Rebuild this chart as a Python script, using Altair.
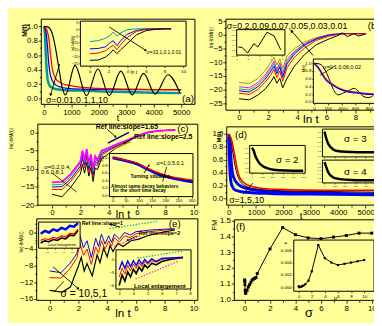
import math
import altair as alt
import pandas as pd

OX, OY = 8, 8
W, H = 374, 315
FONT = "Liberation Sans"
BG = "#FFFF99"

# ---------------- data ----------------
# (a) main: M(t) vs t
A_T_BLACK = [0, 150, 300, 420, 540, 660, 780, 1130, 1550, 1965, 2380, 2800, 3215, 3630, 4050, 4520, 4950]
A_M_BLACK = [1.0, 0.99, 0.9, 0.7, 0.42, 0.16, 0.05, 0.46, 0.04, 0.41, 0.04, 0.38, 0.05, 0.35, 0.06, 0.33, 0.08]
A_T_RED = [0, 60, 120, 180, 240, 300, 420, 600, 800, 1100, 1500, 2000, 3000, 4000, 5000]
A_M_RED = [1.0, 0.98, 0.93, 0.82, 0.6, 0.42, 0.28, 0.22, 0.19, 0.17, 0.15, 0.14, 0.13, 0.125, 0.12]
A_T_BLUE = [0, 40, 80, 120, 170, 230, 300, 420, 600, 900, 1300, 2000, 3000, 4000, 5000]
A_M_BLUE = [1.0, 0.97, 0.9, 0.75, 0.5, 0.33, 0.25, 0.19, 0.16, 0.14, 0.13, 0.125, 0.125, 0.125, 0.125]
A_T_TEAL = [0, 20, 40, 60, 90, 120, 160, 220, 300, 450, 700, 1000, 1500, 2000, 3000, 4000, 5000]
A_M_TEAL = [1.0, 0.95, 0.85, 0.65, 0.45, 0.3, 0.22, 0.17, 0.15, 0.13, 0.12, 0.11, 0.11, 0.1, 0.09, 0.08, 0.075]
# (a) inset: ln(-lnM) vs ln t
AI_X = [0, 0.9, 1.7, 2.2, 2.5, 2.9, 3.3, 4.0, 5.0, 6.0, 7.0, 8.0, 8.7]
AI_TEAL = [-9.0, -8.3, -6.5, -4.3, -2.0, -5.0, -2.6, -0.3, 0.3, 0.5, 0.5, 0.6, 0.6]
AI_BLUE = [-14.3, -14.0, -12.8, -9.6, -8.4, -12.0, -8.4, -3.6, -0.8, 0.1, 0.3, 0.4, 0.4]
AI_RED = [-17.9, -17.4, -15.7, -13.0, -11.8, -14.9, -11.3, -6.0, -1.5, 0.0, 0.3, 0.4, 0.4]
AI_BLACK = [-22.7, -22.5, -20.3, -17.4, -15.0, -17.9, -15.0, -10.5, -4.0, -1.0, 0.0, 0.3, 0.3]

# (b) main
B_X = [0, 0.7, 1.3, 1.8, 2.2, 2.4, 2.6, 2.8, 3.0, 3.3, 3.8, 4.5, 5.3, 6.2, 6.8, 7.1, 7.45, 7.9, 8.2, 8.7]
B_OLIVE = [-17.4, -17.8, -16.0, -13.0, -10.0, -8.2, -11.0, -8.8, -12.4, -7.6, -5.0, -2.6, -1.0, 0.2, 0.4, 0.5, 0.5, 0.5, 0.5, 0.5]
B_MAGENTA = [-19.0, -19.4, -17.4, -14.6, -11.5, -9.6, -12.6, -10.2, -14.0, -9.0, -6.0, -3.2, -1.2, 0.1, 0.4, 0.5, 0.5, 0.5, 0.5, 0.5]
B_CYAN = [-19.8, -20.2, -18.2, -15.4, -12.3, -10.5, -13.4, -11.0, -14.8, -9.8, -6.5, -3.5, -1.4, 0.0, 0.4, 0.5, 0.5, 0.5, 0.5, 0.5]
B_BLUE = [-20.5, -20.9, -19.0, -16.2, -13.2, -11.4, -14.2, -11.8, -15.6, -10.6, -7.0, -3.8, -1.5, 0.0, 0.3, 0.5, 0.5, 0.5, 0.5, 0.5]
B_RED = [-21.4, -21.8, -20.0, -17.3, -14.5, -12.6, -15.6, -13.2, -17.0, -12.0, -8.2, -4.8, -2.0, -0.4, 0.2, 0.4, 0.5, 0.5, 0.5, 0.5]
B_BLACK = [-23.4, -23.8, -22.0, -19.8, -17.1, -15.3, -17.7, -15.9, -19.4, -15.9, -11.5, -7.2, -3.6, -1.4, -0.2, 0.8, -0.6, 0.5, -0.4, 0.4]
# (b) inset 1
BI1_X = [0.28, 0.97, 1.9, 3.04, 3.73, 5.35, 6.6, 7.76]
BI1_Y = [0.32, 0.30, 0.08, 0.45, 0.32, 0.90, 0.75, 0.21]
# (b) inset 2
BI2_T_BLACK = [0, 86, 157, 219, 276, 347, 419, 514, 586, 657, 729, 800, 871]
BI2_M_BLACK = [1.0, 0.98, 0.84, 0.6, 0.35, 0.18, 0.22, 0.3, 0.35, 0.26, 0.13, 0.11, 0.18]
BI2_T = [0, 61, 133, 180, 251, 347, 466, 609, 751, 871]
BI2_M_RED = [1.0, 0.9, 0.7, 0.58, 0.48, 0.37, 0.29, 0.25, 0.22, 0.21]
BI2_M_BLUE = [1.0, 0.88, 0.67, 0.55, 0.46, 0.35, 0.27, 0.23, 0.2, 0.19]

# (c) main
C_X = [0, 0.7, 1.3, 1.8, 2.0, 2.15, 2.3, 2.45, 2.6, 2.75, 2.9, 3.05, 3.2, 3.5, 4.0, 4.6, 5.2, 6.0, 6.8, 7.6, 8.7]
C_MAGENTA = [-13.7, -13.6, -11.5, -9.0, -8.0, -5.0, -7.5, -4.5, -8.5, -6.0, -10.0, -6.5, -7.5, -5.0, -4.2, -3.2, -2.3, -0.9, 0.1, 0.5, 0.7]
C_CYAN = [-14.4, -14.3, -12.2, -9.6, -8.6, -5.8, -8.2, -5.3, -9.2, -6.8, -10.8, -7.2, -8.0, -5.4, -4.4, -3.3, -2.4, -0.9, 0.1, 0.5, 0.7]
C_BLUE = [-15.0, -14.9, -12.9, -10.3, -9.3, -6.5, -8.9, -6.0, -9.9, -7.5, -11.5, -7.9, -8.6, -5.8, -4.7, -3.5, -2.5, -1.0, 0.0, 0.5, 0.7]
C_RED = [-15.7, -15.7, -13.6, -11.0, -10.0, -7.3, -9.7, -6.8, -10.7, -8.3, -12.2, -8.6, -9.2, -6.3, -5.0, -3.7, -2.6, -1.0, 0.0, 0.5, 0.7]
C_BLACK = [-17.0, -17.7, -15.2, -12.5, -11.5, -8.8, -11.2, -8.2, -12.0, -9.6, -13.5, -9.8, -10.2, -7.2, -5.8, -4.0, -2.8, -1.1, 0.0, 0.5, 0.7]
# (c) inset
CI_T = [0, 44, 94, 131, 169, 219, 269, 305]
CI_RED = [1.0, 0.94, 0.85, 0.72, 0.61, 0.5, 0.44, 0.4]
CI_BLUE = [1.0, 0.93, 0.83, 0.7, 0.58, 0.47, 0.4, 0.36]
CI_BLACK = [1.0, 0.94, 0.84, 0.71, 0.6, 0.48, 0.42, 0.38]

# (d) main
D_T_RED = [0, 114, 207, 293, 411, 650, 1064, 2018, 3446, 5400]
D_M_RED = [1.0, 0.9, 0.7, 0.5, 0.32, 0.22, 0.17, 0.14, 0.13, 0.13]
D_T_BLUE = [0, 50, 89, 171, 350, 829, 2018, 3500, 5400]
D_M_BLUE = [1.0, 0.85, 0.6, 0.34, 0.22, 0.14, 0.1, 0.085, 0.07]
D_T_BLUE2 = [0, 30, 60, 120, 250, 600, 1500, 3000, 5400]
D_M_BLUE2 = [0.95, 0.6, 0.35, 0.2, 0.13, 0.1, 0.08, 0.07, 0.06]
D_T_BLACK = [0, 80, 160, 250, 380, 600, 1000, 2000, 3500, 5400]
D_M_BLACK = [1.0, 0.9, 0.7, 0.48, 0.3, 0.2, 0.15, 0.12, 0.11, 0.1]
# (d) insets
DI_T = [0, 150, 350, 650, 1000, 1700, 2600, 4000, 5000]
DI2_M = [1.0, 0.92, 0.66, 0.42, 0.26, 0.13, 0.07, 0.05, 0.05]
DI3_M = [1.0, 0.75, 0.5, 0.33, 0.22, 0.17, 0.15, 0.14, 0.14]
DI4_M = [1.0, 0.78, 0.5, 0.3, 0.19, 0.13, 0.1, 0.085, 0.08]

# (e) main
E_X = [0, 0.8, 1.4, 1.9, 2.1, 2.35, 2.6, 2.9, 3.2, 3.4, 3.6, 3.85, 4.1, 4.3, 4.5, 4.85, 5.2, 5.6, 6.0, 6.5, 7.0, 7.5, 8.0, 8.7]
E_BLUE = [-9.3, -9.7, -7.5, -5.1, -0.6, -3.7, -2.0, -6.1, -1.4, -3.4, -0.4, -2.8, -0.8, -2.4, -0.4, -1.6, 0.0, -0.6, 0.2, 0.4, 0.6, 0.7, 0.8, 0.9]
E_RED = [-10.9, -11.0, -8.8, -6.1, -2.5, -5.5, -4.0, -7.7, -3.5, -5.0, -2.0, -4.0, -2.0, -3.3, -1.3, -2.3, -0.8, -1.2, -0.3, 0.0, 0.2, 0.4, 0.6, 0.8]
E_X_BLACK = [0, 0.87, 1.44, 2.0, 2.2, 2.4, 2.6, 2.96, 3.3, 3.5, 3.75, 4.0, 4.2, 4.4, 4.75, 5.1, 5.65, 6.2, 6.8, 7.4, 7.9, 8.7]
E_BLACK = [-14.0, -14.4, -13.2, -8.1, -6.0, -9.3, -7.5, -10.5, -5.4, -7.3, -3.8, -5.9, -3.2, -4.6, -2.6, -3.4, -2.0, -1.6, -0.8, -0.3, 0.1, 0.6]
# (e) inset 1 (local enlargement, arbitrary units)
EI1_X = [0.05, 0.15, 0.25, 0.35, 0.45, 0.55, 0.65, 0.75, 0.85, 0.95]
EI1_BLUE = [0.55, 0.66, 0.6, 0.72, 0.66, 0.78, 0.72, 0.86, 0.82, 0.96]
EI1_RED = [0.3, 0.36, 0.33, 0.41, 0.38, 0.47, 0.44, 0.57, 0.55, 0.73]
EI1_BLACK = [0.2, 0.28, 0.25, 0.33, 0.3, 0.39, 0.36, 0.5, 0.48, 0.68]
# (e) inset 2
EI2_X = [3.0, 3.2, 3.4, 3.6, 3.8, 4.0, 4.2, 4.4, 4.6, 4.8, 5.0, 5.3, 5.6, 6.0, 6.5, 7.0, 7.5]
EI2_BLUE = [-2.3, -0.5, -2.0, -0.3, -1.6, -0.2, -1.3, 0.0, -1.0, 0.1, -0.7, 0.2, -0.4, 0.3, 0.4, 0.5, 0.6]
EI2_RED = [-4.0, -2.0, -3.3, -1.3, -2.6, -1.0, -2.0, -0.7, -1.6, -0.4, -1.1, -0.2, -0.6, 0.1, 0.3, 0.4, 0.5]
EI2_BLACK = [-6.0, -3.5, -5.0, -2.8, -4.0, -2.2, -3.2, -1.7, -2.6, -1.2, -1.9, -0.8, -1.2, -0.4, 0.0, 0.3, 0.5]

# (f) main and inset
F_SIG = [0.01, 0.02, 0.03, 0.05, 0.07, 0.09, 0.1, 0.2, 0.3, 0.4, 0.5, 0.6, 0.7, 0.8, 0.9, 1, 2, 3, 4, 5, 6, 7, 8, 9, 10]
F_FM = [1.125, 1.115, 1.095, 1.06, 1.045, 1.04, 1.045, 1.06, 1.08, 1.095, 1.11, 1.125, 1.13, 1.135, 1.14, 1.165,
        1.32, 1.455, 1.41, 1.39, 1.385, 1.395, 1.405, 1.42, 1.42]
FI_SIG = [0.01, 0.05, 0.1, 0.3, 0.5, 0.7, 1, 1.5, 2, 3, 4, 5, 6, 7, 8, 9, 10]
FI_K = [0.0002, 0.0001, 0.00005, 0.0001, 0.0002, 0.0003, 0.0005, 0.0011, 0.0026, 0.0068, 0.0047, 0.0040,
        0.0036, 0.0038, 0.0040, 0.0042, 0.0044]


# ---------------- helpers ----------------
class Panel:
    def __init__(self, xd, xr, yd, yr):
        self.xd, self.yd = list(xd), list(yd)
        self.xr = [xr[0] - OX, xr[1] - OX]
        self.yr = [yr[0] - OY, yr[1] - OY]

    def xs(self):
        return alt.Scale(domain=self.xd, range=self.xr, nice=False, zero=False)

    def ys(self):
        return alt.Scale(domain=self.yd, range=self.yr, nice=False, zero=False)

    def px(self, x, y):
        X = self.xr[0] + (x - self.xd[0]) / (self.xd[1] - self.xd[0]) * (self.xr[1] - self.xr[0])
        Y = self.yr[0] + (y - self.yd[0]) / (self.yd[1] - self.yd[0]) * (self.yr[1] - self.yr[0])
        return X, Y


def enc(p, xax=None, yax=None):
    return dict(x=alt.X('x:Q', scale=p.xs(), axis=xax), y=alt.Y('y:Q', scale=p.ys(), axis=yax))


def _axis(orient, offset, vals, fs, fmt, labels, tick):
    kw = dict(orient=orient, offset=offset, values=vals, grid=False, domain=False,
              ticks=True, tickSize=tick, tickColor='black', tickWidth=0.8,
              labels=labels, labelFont=FONT, labelFontSize=fs, labelColor='black',
              labelPadding=1, labelFlush=False, labelOverlap=False, labelAngle=0)
    if fmt:
        kw['format'] = fmt
    return kw


def xaxis(p, vals, fs=8, fmt=None, labels=True, tick=3, title=None, tpos=None, tfs=10, tw='normal'):
    kw = _axis('bottom', p.yr[0] - H, vals, fs, fmt, labels, tick)
    if title:
        kw.update(title=title, titleFont=FONT, titleFontSize=tfs, titleFontWeight=tw, titleColor='black',
                  titleX=tpos[0] - OX, titleY=(tpos[1] - OY) - p.yr[0],
                  titleAlign='center', titleBaseline='middle', titleAngle=0)
    else:
        kw['title'] = None
    return alt.Axis(**kw)


def yaxis(p, vals, fs=8, fmt=None, labels=True, tick=3, title=None, tpos=None, tfs=8, tw='normal'):
    kw = _axis('left', -p.xr[0], vals, fs, fmt, labels, tick)
    if title:
        kw.update(title=title, titleFont=FONT, titleFontSize=tfs, titleFontWeight=tw, titleColor='black',
                  titleX=(tpos[0] - OX) - p.xr[0], titleY=tpos[1] - OY,
                  titleAlign='center', titleBaseline='middle', titleAngle=270)
    else:
        kw['title'] = None
    return alt.Axis(**kw)


def frame(p, xax=None, yax=None, fill=False, show=True):
    df = pd.DataFrame({'x': [p.xd[0]], 'x2': [p.xd[1]], 'y': [p.yd[0]], 'y2': [p.yd[1]]})
    mk = dict(stroke='black', strokeWidth=1, strokeOpacity=1 if show else 0)
    if fill:
        mk.update(fill=BG, fillOpacity=1)
    else:
        mk.update(fillOpacity=0)
    return alt.Chart(df).mark_rect(**mk).encode(x2=alt.X2('x2'), y2=alt.Y2('y2'), **enc(p, xax, yax))


def line(p, xs, ys, color, sw=1.0, interp='linear', dash=None):
    df = pd.DataFrame({'x': xs, 'y': ys, 'i': list(range(len(xs)))})
    mk = dict(color=color, strokeWidth=sw, interpolate=interp)
    if dash is not None:
        mk['strokeDash'] = dash
    return alt.Chart(df).mark_line(**mk).encode(order='i:Q', **enc(p))


def points(p, xs, ys, size=9):
    df = pd.DataFrame({'x': xs, 'y': ys})
    return alt.Chart(df).mark_point(shape='square', filled=True, color='black', size=size, opacity=1).encode(**enc(p))


def arrow(p, x0, y0, x1, y1, head=True, sw=0.9, size=12):
    out = [line(p, [x0, x1], [y0, y1], 'black', sw)]
    if head:
        X0, Y0 = p.px(x0, y0)
        X1, Y1 = p.px(x1, y1)
        ang = math.degrees(math.atan2(X1 - X0, -(Y1 - Y0))) % 360
        df = pd.DataFrame({'x': [x1], 'y': [y1]})
        out.append(alt.Chart(df).mark_point(shape='triangle-up', filled=True, color='black', size=size,
                                            angle=ang, opacity=1).encode(**enc(p)))
    return out


def text(p, x, y, s, fs=8, align='left', weight='normal', color='black'):
    df = pd.DataFrame({'x': [x], 'y': [y], 't': [s]})
    mk = dict(fontSize=fs, align=align, baseline='middle', font=FONT, fontWeight=weight, color=color)
    return alt.Chart(df).mark_text(**mk).encode(text='t:N', **enc(p))


layers = []


def add(*items):
    for it in items:
        if isinstance(it, list):
            layers.extend(it)
        else:
            layers.append(it)


# ---------------- panels (pixel boxes of the reference) ----------------
PA = Panel((-100, 5500), (42, 199), (-0.08, 1.1), (103, 16))
PAi = Panel((-1, 10.3), (82, 190), (-27, 6), (64, 18))
PB = Panel((-0.9, 10), (230.7, 392.8), (-27.6, 5.8), (109, 16))
PBi1 = Panel((0, 8.5), (241.7, 291), (0, 1), (52.7, 26.7))
PBi2 = Panel((-10, 930), (320, 385.8), (-0.04, 1.11), (102, 56.7))
PC = Panel((-1, 10.3), (38.5, 202), (-20, 2.3), (206, 123.3))
PCi = Panel((-12, 305), (111.7, 197), (-0.034, 1.11), (197.3, 153.3))
PD = Panel((-70, 5500), (231.5, 387.5), (-0.1, 1.11), (206, 126))
PDi2 = Panel((-200, 5200), (255, 311.7), (-0.05, 1.1), (173.3, 145))
PDi3 = Panel((-200, 5200), (329.3, 386), (-0.05, 1.1), (156.7, 128.3))
PDi4 = Panel((-200, 5200), (329.3, 386), (-0.05, 1.1), (183.3, 160))
PE = Panel((-0.9, 10.3), (37.3, 202), (-16.4, 3.3), (303.3, 220))
PEi1 = Panel((0, 1), (39.3, 81.7), (0, 1), (250, 223.3))
PEi2 = Panel((2.77, 8.06), (118.3, 195), (-6.8, 2.3), (291.7, 251.7))
PF = Panel((-0.8, 11), (239.3, 392.7), (0.996, 1.504), (303.3, 221))
PFi = Panel((-0.75, 11.5), (300, 382), (-0.0006, 0.0076), (294, 241.7))

TEAL = "#009B8F"
CYAN = "#00AAAA"
OLIVE = "#999900"
MAG = "#FF00FF"

# ----- (a) -----
add(frame(PA, xaxis(PA, [0, 1000, 2000, 3000, 4000, 5000], fmt='d', title='t', tpos=(120, 117), tfs=9),
          yaxis(PA, [0, 0.2, 0.4, 0.6, 0.8, 1.0], fmt='.1f', title='M(t)', tpos=(25, 27), tfs=7, tw='bold')))
add(frame(PA, xaxis(PA, [500, 1500, 2500, 3500, 4500], labels=False, tick=2),
          yaxis(PA, [0.1, 0.3, 0.5, 0.7, 0.9], labels=False, tick=2), show=False))
add(line(PA, A_T_TEAL, A_M_TEAL, TEAL, 2.5, 'monotone'),
    line(PA, A_T_BLUE, A_M_BLUE, 'blue', 1.3, 'monotone'),
    line(PA, A_T_RED, A_M_RED, 'red', 1.3, 'monotone'),
    line(PA, A_T_BLACK, A_M_BLACK, 'black', 1.2, 'monotone'))
add(arrow(PA, 571, 0.48, 239, 0.05))
add(text(PA, 70, -0.025, 'σ=0.01,0.1,1,10', fs=9))
add(text(PA, 5250, -0.012, '(a)', fs=10, align='center'))
# (a) inset
add(frame(PAi, xaxis(PAi, [0, 2, 4, 6, 8, 10], fs=4.5, fmt='d', tick=1.5, title='ln t', tpos=(136, 69), tfs=5),
          yaxis(PAi, [5, 0, -5, -10, -15, -20, -25], fs=4, fmt='d', tick=1.5, title='ln(-lnM(t))',
                tpos=(74, 40), tfs=3.5), fill=True))
for c, ys in [(TEAL, AI_TEAL), ('blue', AI_BLUE), ('red', AI_RED), ('black', AI_BLACK)]:
    add(line(PAi, AI_X, ys, c, 1.0))
add(arrow(PAi, 2.1, 1.7, 6.0, -15.5, size=8))
add(text(PAi, 6.1, -16.3, 'σ=10,1,0.1,0.01', fs=5))

# ----- (b) -----
add(frame(PB, xaxis(PB, [0, 2, 4, 6, 8], fmt='d', title='ln t', tpos=(317, 118), tfs=12),
          yaxis(PB, [5, 0, -5, -10, -15, -20, -25], fmt='d', title='ln(-lnM(t))', tpos=(215, 34), tfs=5)))
add(frame(PB, xaxis(PB, [1, 3, 5, 7, 9], labels=False, tick=2),
          yaxis(PB, [2.5, -2.5, -7.5, -12.5, -17.5, -22.5], labels=False, tick=2), show=False))
for c, ys in [(OLIVE, B_OLIVE), (MAG, B_MAGENTA), (CYAN, B_CYAN), ('blue', B_BLUE), ('red', B_RED),
              ('black', B_BLACK)]:
    add(line(PB, B_X, ys, c, 1.0))
add(frame(PBi1, xaxis(PBi1, [0, 2, 4, 6, 8], fs=2.5, fmt='d', tick=1),
          yaxis(PBi1, [0, 0.2, 0.4, 0.6, 0.8, 1.0], fs=2.5, fmt='.1f', tick=1), fill=True))
add(line(PBi1, BI1_X, BI1_Y, 'black', 1.0))
add(text(PB, -0.85, 3.2, 'σ=0.2,0.09,0.07,0.05,0.03,0.01', fs=9))
add(text(PB, 8.85, 3.3, '(b)', fs=10))
add(arrow(PB, 5.09, -7.5, 3.6, 1.5))
add(frame(PBi2, xaxis(PBi2, [0, 200, 400, 600, 800], fs=4.5, fmt='d', tick=1.5, title='t', tpos=(354, 107), tfs=5),
          yaxis(PBi2, [0, 0.2, 0.4, 0.6, 0.8, 1.0], fs=4.5, fmt='.1f', tick=1.5, title='M(t)',
                tpos=(310, 66), tfs=4), fill=True))
add(line(PBi2, BI2_T_BLACK, BI2_M_BLACK, 'black', 1.0, 'monotone'),
    line(PBi2, BI2_T, BI2_M_RED, 'red', 1.2, 'monotone'),
    line(PBi2, BI2_T, BI2_M_BLUE, 'blue', 1.2, 'monotone'))
add(line(PBi2, [90, 305], [0.69, 0.93], 'black', 0.8))
add(text(PBi2, 133, 0.89, 'σ=0.1,0.06,0.02', fs=5.5))

# ----- (c) -----
add(frame(PC, xaxis(PC, [0, 2, 4, 6, 8, 10], fmt='d', title='ln t', tpos=(125, 215.5), tfs=11),
          yaxis(PC, [0, -5, -10, -15, -20], fmt='d', title='ln(-lnM(t))', tpos=(11, 137), tfs=5)))
add(frame(PC, xaxis(PC, [1, 3, 5, 7, 9], labels=False, tick=2),
          yaxis(PC, [-2.5, -7.5, -12.5, -17.5], labels=False, tick=2), show=False))
for c, ys, w in [('black', C_BLACK, 1.0), ('red', C_RED, 1.0), ('blue', C_BLUE, 1.0), (CYAN, C_CYAN, 1.0),
                 (MAG, C_MAGENTA, 1.8)]:
    add(line(PC, C_X, ys, c, w))
add(line(PC, [3.94, 5.44], [-2.93, 0.03], '#000080', 1.5))
add(line(PC, [4.29, 5.53], [-4.71, -2.47], OLIVE, 1.5))
add(text(PC, 3.09, 1.6, 'Ref line:slope=1.65', fs=7, weight='bold'))
add(text(PC, 5.79, -1.31, 'Ref line:slope=2.5', fs=7, weight='bold'))
add(arrow(PC, 3.9, 0.9, 4.5, -1.2, size=8))
add(arrow(PC, 5.75, -1.5, 5.1, -2.9, size=8))
add(text(PC, 9.24, 0.95, '(c)', fs=10, align='center'))
add(text(PC, -0.55, -9.4, 'σ=0.2,0.4,', fs=6))
add(text(PC, -0.78, -10.75, '0.6,0.8,1', fs=6))
add(line(PC, [0.02, 1.75], [-11.2, -16.4], 'black', 0.8))
# (c) inset
add(frame(PCi, xaxis(PCi, [0, 50, 100, 150, 200, 250, 300], fs=4, fmt='d', tick=1.5, title='t', tpos=(150, 204), tfs=4),
          yaxis(PCi, [0, 0.2, 0.4, 0.6, 0.8, 1.0], fs=4, fmt='.1f', tick=1.5, title='M(t)', tpos=(104, 158), tfs=3.5),
          fill=True))
add(line(PCi, CI_T, CI_BLUE, 'blue', 3.0, 'monotone'),
    line(PCi, CI_T, CI_BLACK, 'black', 1.0, 'monotone'),
    line(PCi, CI_T, CI_RED, 'red', 1.3, 'monotone'))
add(text(PCi, 167, 0.85, 'σ=1,0.5,0.1', fs=5.5))
add(line(PCi, [205, 190], [0.75, 0.37], 'black', 0.8))
add(text(PCi, 68, 0.52, 'Turning situation', fs=5, weight='bold'))
add(arrow(PCi, 119, 0.59, 138, 0.8, size=6))
add(text(PCi, -6, 0.23, 'Almost same decay behaviors', fs=4.8, weight='bold'))
add(text(PCi, 0.4, 0.11, 'for the short time decay', fs=4.8, weight='bold'))

# ----- (d) -----
add(frame(PD, xaxis(PD, [0, 1000, 2000, 3000, 4000, 5000], fmt='d', title='t', tpos=(307, 217), tfs=10),
          yaxis(PD, [0, 0.2, 0.4, 0.6, 0.8, 1.0], fmt='.1f', title='M(t)', tpos=(223, 136), tfs=6, tw='bold')))
add(frame(PD, xaxis(PD, [500, 1500, 2500, 3500, 4500], labels=False, tick=2),
          yaxis(PD, [0.1, 0.3, 0.5, 0.7, 0.9], labels=False, tick=2), show=False))
add(line(PD, D_T_BLUE2, D_M_BLUE2, 'blue', 3.0, 'monotone'),
    line(PD, D_T_BLUE, D_M_BLUE, 'blue', 3.0, 'monotone'),
    line(PD, D_T_BLACK, D_M_BLACK, 'black', 1.0, 'monotone'),
    line(PD, D_T_RED, D_M_RED, 'red', 1.6, 'monotone'))
add(text(PD, 233, 0.989, '(d)', fs=10))
add(text(PD, 19, -0.02, 'σ=1,5,10', fs=9))
add(line(PD, [518, 886], [0.07, 0.24], 'black', 0.9))
for P_, M_, lab, tx, ty in [(PDi2, DI2_M, 'σ = 2', 3448, 0.49), (PDi3, DI3_M, 'σ = 3', 3010, 0.707),
                            (PDi4, DI4_M, 'σ = 4', 3010, 0.52)]:
    add(frame(P_, xaxis(P_, [0, 1000, 2000, 3000, 4000, 5000], fs=2, fmt='d', tick=1),
              yaxis(P_, [0, 0.2, 0.4, 0.6, 0.8, 1.0], fs=2.5, fmt='.1f', tick=1), fill=True))
    add(line(P_, DI_T, M_, 'black', 2.5, 'monotone'))
    add(text(P_, tx, ty, lab, fs=10, align='center'))

# ----- (e) -----
add(frame(PE, xaxis(PE, [0, 2, 4, 6, 8, 10], fmt='d', title='ln t', tpos=(125, 316), tfs=12),
          yaxis(PE, [0, -4, -8, -12, -16], fmt='d', title='ln(-lnM(t))', tpos=(21, 243), tfs=5)))
add(frame(PE, xaxis(PE, [1, 3, 5, 7, 9], labels=False, tick=2),
          yaxis(PE, [2, -2, -6, -10, -14], labels=False, tick=2), show=False))
add(line(PE, E_X_BLACK, E_BLACK, 'black', 1.2),
    line(PE, E_X, E_RED, 'red', 1.0),
    line(PE, E_X, E_BLUE, 'blue', 1.0))
add(line(PE, [4.16, 7.45], [0.95, 2.67], CYAN, 1.2, dash=[1.5, 1.5]))
add(line(PE, [4.5, 6.31], [-3.4, -0.78], MAG, 1.2, dash=[1.5, 1.5]))
add(text(PE, 2.23, 2.25, 'Ref line:slope=1', fs=5.5, weight='bold'))
add(text(PE, 6.2, -0.25, 'Ref line:slope=2', fs=5.5, weight='bold'))
add(arrow(PE, 4.9, 1.3, 4.2, 2.0, size=6))
add(arrow(PE, 6.1, -0.8, 5.4, -1.9, size=6))
add(text(PE, 8.69, 2.12, '(e)', fs=10, align='center'))
add(arrow(PE, 0.24, -8.3, 2.0, -13.6, size=10))
add(line(PE, [0.99, 0.3], [-11.8, -14.4], 'black', 0.9))
add(text(PE, 0.76, -14.98, 'σ = 10,5,1', fs=10.5))
# (e) inset 1
add(frame(PEi1, xaxis(PEi1, [0.2, 0.4, 0.6, 0.8], fs=2, fmt='.1f', tick=1),
          yaxis(PEi1, [0.2, 0.4, 0.6, 0.8], fs=2, fmt='.1f', tick=1), fill=True))
add(line(PEi1, EI1_X, EI1_BLACK, 'black', 1.6),
    line(PEi1, EI1_X, EI1_RED, 'red', 1.2),
    line(PEi1, EI1_X, EI1_BLUE, 'blue', 2.5))
add(text(PEi1, 0.566, 0.14, 'Local enlargement', fs=3.5, align='center'))
# (e) inset 2
add(frame(PEi2, xaxis(PEi2, [3, 4, 5, 6, 7, 8], fs=4, fmt='d', tick=1.5),
          yaxis(PEi2, [0, -3, -6], fs=4, fmt='d', tick=1.5), fill=True))
add(line(PEi2, EI2_X, EI2_BLACK, 'black', 1.6),
    line(PEi2, EI2_X, EI2_RED, 'red', 1.0),
    line(PEi2, EI2_X, EI2_BLUE, 'blue', 1.4))
add(line(PEi2, [4.27, 7.49], [0.38, 2.03], CYAN, 1.1, dash=[1.5, 1.5]))
add(line(PEi2, [4.15, 7.14], [-4.5, -0.36], MAG, 1.1, dash=[1.5, 1.5]))
add(text(PEi2, 5.87, -6.03, 'Local enlargement', fs=6, align='center', weight='bold'))

# ----- (f) -----
add(frame(PF, xaxis(PF, [0, 2, 4, 6, 8, 10], fmt='d', title='σ', tpos=(315, 316), tfs=13),
          yaxis(PF, [1.0, 1.1, 1.2, 1.3, 1.4, 1.5], fmt='.1f', title='FM', tpos=(219, 226), tfs=8)))
add(frame(PF, xaxis(PF, [1, 3, 5, 7, 9], labels=False, tick=2),
          yaxis(PF, [1.05, 1.15, 1.25, 1.35, 1.45], labels=False, tick=2), show=False))
add(line(PF, F_SIG, F_FM, 'black', 1.0), points(PF, F_SIG, F_FM, 9))
add(text(PF, -0.67, 1.459, '(f)', fs=10))
add(frame(PFi, xaxis(PFi, [0, 2, 4, 6, 8, 10], fs=4.5, fmt='d', tick=1.5, title='σ', tpos=(342, 300), tfs=5.5),
          yaxis(PFi, [0, 0.002, 0.004, 0.006], fs=4.5, fmt='.3f', tick=1.5, title='k', tpos=(292, 244), tfs=4.5),
          fill=True))
add(line(PFi, FI_SIG, FI_K, 'black', 1.0), points(PFi, FI_SIG, FI_K, 5))

chart = alt.layer(*layers).resolve_scale(x='independent', y='independent').properties(
    width=W, height=H, background=BG, padding=0,
    autosize=alt.AutoSizeParams(type='none')
).configure_view(strokeWidth=0)

chart.save("out.html", embed_options={"renderer": "svg", "actions": False})
